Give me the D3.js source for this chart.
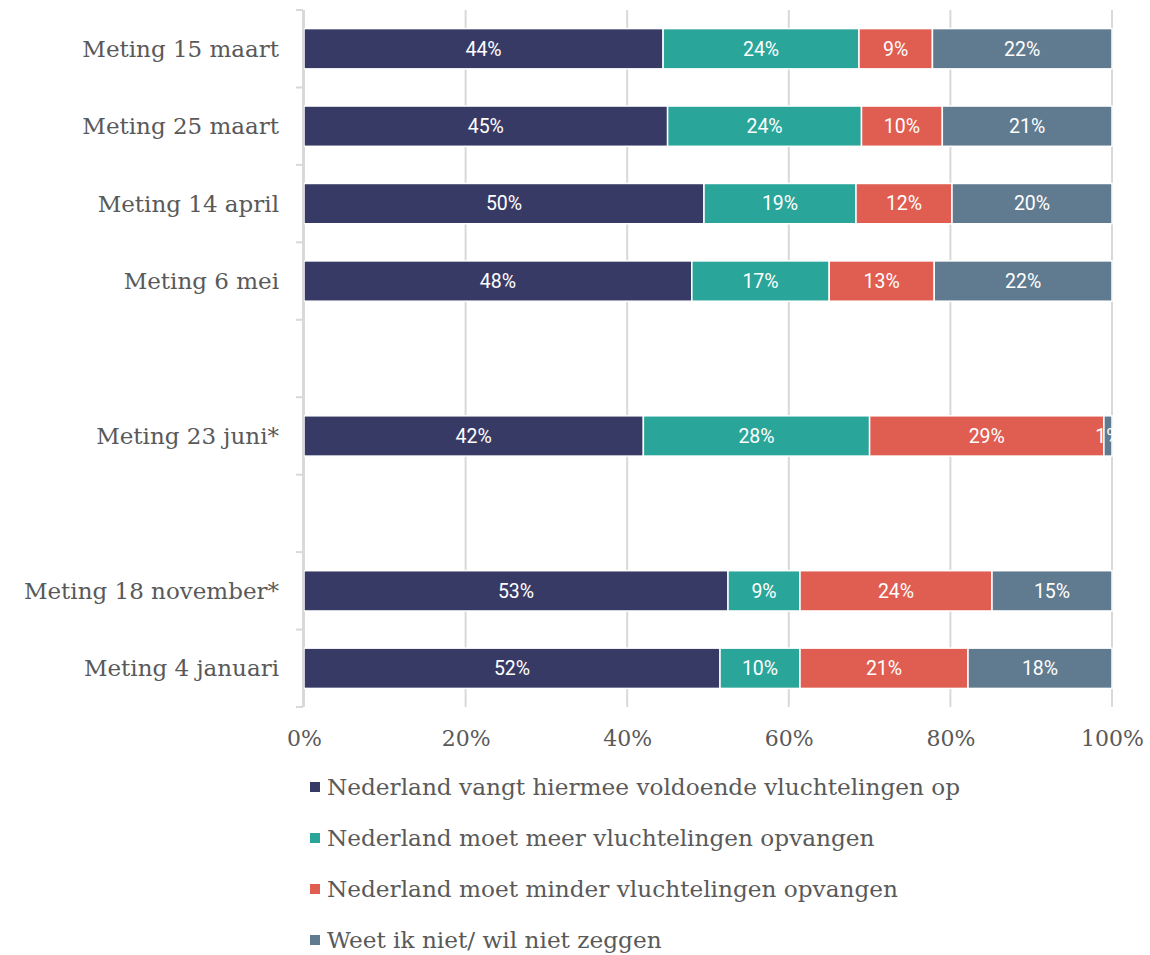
<!DOCTYPE html>
<html>
<head>
<meta charset="utf-8">
<script src="https://cdn.jsdelivr.net/npm/d3@7"></script>
<style>
  body { margin: 0; background: #fff; }
  svg { display: block; }
</style>
</head>
<body>
<div id="chart"></div>
<script>
// categories (empty rows keep the gaps between the measurements)
const categories = ['Meting 15 maart', 'Meting 25 maart', 'Meting 14 april', 'Meting 6 mei', '', 'Meting 23 juni*', ' ', 'Meting 18 november*', 'Meting 4 januari'];

// series
const seriesNames = [
    'Nederland vangt hiermee voldoende vluchtelingen op',
    'Nederland moet meer vluchtelingen opvangen',
    'Nederland moet minder vluchtelingen opvangen',
    'Weet ik niet/ wil niet zeggen'
];
const seriesColors = ['#383a66', '#2aa59a', '#df5d51', '#607b8f'];

// values per series, in category order (null = empty row)
const voldoende = [44, 45, 50, 48, null, 42, null, 53, 52];
const meer      = [24, 24, 19, 17, null, 28, null, 9, 10];
const minder    = [9, 10, 12, 13, null, 29, null, 24, 21];
const weetNiet  = [22, 21, 20, 22, null, 1, null, 15, 18];

const xTicks = [0, 0.2, 0.4, 0.6, 0.8, 1];

// layout
const width = 1150;
const height = 955;
const margin = {t: 10, r: 38, b: 248, l: 304};

const svg = d3.select('#chart').append('svg')
    .attr('width', width)
    .attr('height', height);

// table built from the arrays
const rows = categories.map((c, i) => {
    const vals = [voldoende[i], meer[i], minder[i], weetNiet[i]];
    return {cat: c, vals: vals, total: vals[0] === null ? 0 : d3.sum(vals)};
}).filter(d => d.total > 0);

const stackData = rows.map(r => {
    const o = {cat: r.cat};
    seriesNames.forEach((s, j) => { o[s] = r.vals[j] / r.total; o[s + '_raw'] = r.vals[j]; });
    return o;
});
const stacked = d3.stack().keys(seriesNames)(stackData);

// scales
const x = d3.scaleLinear()
    .domain([0, 1])
    .range([margin.l, width - margin.r]);

const y = d3.scaleBand()
    .domain(categories)
    .range([margin.t, height - margin.b])
    .paddingInner(0.48)
    .paddingOuter(0.24);

const step = y.step();
const bandTop = c => y(c) - y.paddingInner() * step / 2;

// gridlines
svg.append('g')
    .classed('grid', true)
    .selectAll('line')
    .data(xTicks)
    .enter()
    .append('line')
    .attr('x1', d => x(d))
    .attr('x2', d => x(d))
    .attr('y1', margin.t)
    .attr('y2', height - margin.b)
    .attr('stroke', '#d9d9d9')
    .attr('stroke-width', 2);

// left axis line + tick marks on band boundaries
const yAxisG = svg.append('g').classed('y-axis', true);
yAxisG.append('line')
    .attr('x1', margin.l - 1).attr('x2', margin.l - 1)
    .attr('y1', margin.t).attr('y2', height - margin.b)
    .attr('stroke', '#d9d9d9').attr('stroke-width', 2);
const boundaries = categories.map(c => bandTop(c)).concat([height - margin.b]);
yAxisG.selectAll('.tick-mark')
    .data(boundaries)
    .enter()
    .append('line')
    .classed('tick-mark', true)
    .attr('x1', margin.l - 8).attr('x2', margin.l - 1)
    .attr('y1', d => d).attr('y2', d => d)
    .attr('stroke', '#d9d9d9').attr('stroke-width', 2);

yAxisG.selectAll('.cat-label')
    .data(categories.filter(c => c.trim() !== ''))
    .enter()
    .append('text')
    .classed('cat-label', true)
    .attr('x', margin.l - 25)
    .attr('y', d => y(d) + y.bandwidth() / 2)
    .attr('dy', '0.35em')
    .attr('text-anchor', 'end')
    .attr('font-family', '"DejaVu Serif", serif')
    .attr('font-size', 23)
    .attr('fill', '#595959')
    .text(d => d);

// clip for the plot area
svg.append('clipPath').attr('id', 'plot-clip')
    .append('rect')
    .attr('x', margin.l).attr('y', margin.t)
    .attr('width', x(1) - margin.l + 1)
    .attr('height', height - margin.b - margin.t);

// bars
const plot = svg.append('g')
    .classed('plot', true)
    .attr('clip-path', 'url(#plot-clip)');

const layers = plot.selectAll('.layer')
    .data(stacked)
    .enter()
    .append('g')
    .classed('layer', true)
    .attr('fill', (d, i) => seriesColors[i]);

layers.selectAll('rect')
    .data(d => d)
    .enter()
    .append('rect')
    .attr('x', d => x(d[0]))
    .attr('y', d => y(d.data.cat))
    .attr('width', d => x(d[1]) - x(d[0]))
    .attr('height', y.bandwidth())
    .attr('stroke', '#fff')
    .attr('stroke-width', 1.5);

layers.each(function(layer) {
    d3.select(this).selectAll('.bar-label')
        .data(layer)
        .enter()
        .append('text')
        .classed('bar-label', true)
        .attr('x', d => (x(d[0]) + x(d[1])) / 2)
        .attr('y', d => y(d.data.cat) + y.bandwidth() / 2)
        .attr('dy', '0.35em')
        .attr('text-anchor', 'middle')
        .attr('font-family', 'Roboto, sans-serif')
        .attr('font-size', 19.5)
        .attr('fill', '#fff')
        .text(d => d.data[layer.key + '_raw'] + '%');
});

// bottom axis labels
const xAxis = d3.axisBottom(x)
    .tickValues(xTicks)
    .tickFormat(d3.format('.0%'))
    .tickSize(0)
    .tickPadding(23);

svg.append('g')
    .classed('x-axis', true)
    .attr('transform', `translate(0,${height - margin.b})`)
    .call(xAxis)
    .call(g => g.select('.domain').remove())
    .selectAll('text')
    .attr('font-family', '"DejaVu Serif", serif')
    .attr('font-size', 22)
    .attr('fill', '#595959');

// legend
const legend = svg.append('g')
    .classed('legend', true)
    .attr('transform', 'translate(310,787)');

const legendItems = legend.selectAll('.legend-item')
    .data(seriesNames)
    .enter()
    .append('g')
    .classed('legend-item', true)
    .attr('transform', (d, i) => `translate(0,${i * 51})`);

legendItems.append('rect')
    .attr('x', 0)
    .attr('y', -5)
    .attr('width', 10)
    .attr('height', 10)
    .attr('fill', (d, i) => seriesColors[i]);

legendItems.append('text')
    .attr('x', 17)
    .attr('y', 0)
    .attr('dy', '0.35em')
    .attr('font-family', '"DejaVu Serif", serif')
    .attr('font-size', 23.2)
    .attr('fill', '#595959')
    .text(d => d);
</script>
</body>
</html>
